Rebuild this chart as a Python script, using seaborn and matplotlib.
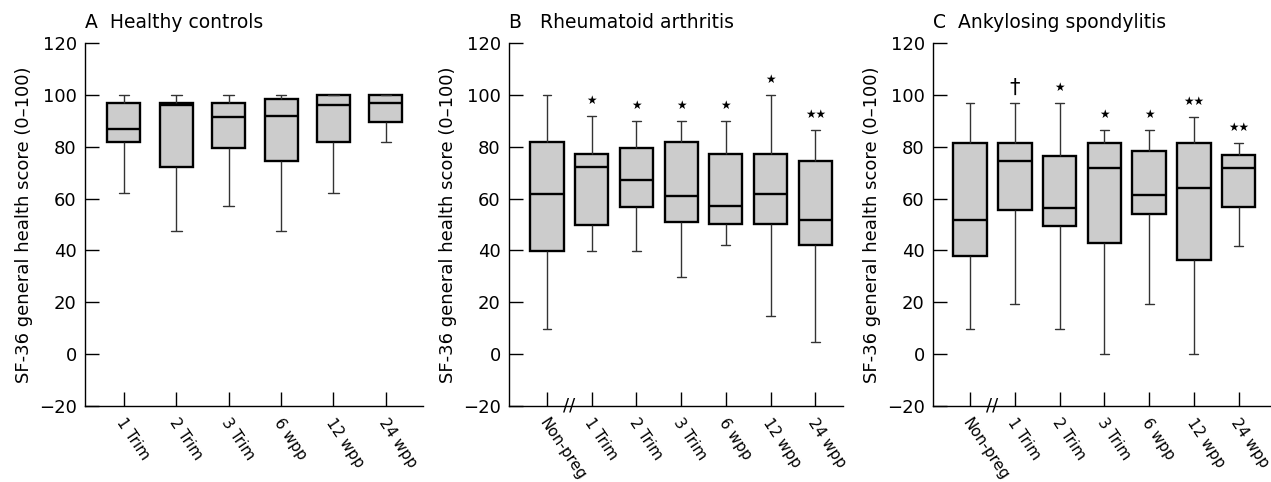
import pandas as pd
import matplotlib.pyplot as plt
import matplotlib.transforms as mtransforms
import seaborn as sns

# five-number summaries: min, Q1, median, Q3, max
groups_ctrl = ['1 Trim', '2 Trim', '3 Trim', '6 wpp', '12 wpp', '24 wpp']
groups_dis = ['Non-preg'] + groups_ctrl

ctrl_min = [62, 47.5, 57, 47.5, 62, 82]
ctrl_q1 = [82, 72, 79.6, 74.3, 82, 89.5]
ctrl_med = [87, 96, 91.5, 92, 96, 97]
ctrl_q3 = [97, 97, 97, 98.3, 100, 100]
ctrl_max = [100, 100, 100, 100, 100, 100]
ctrl_sig = ['', '', '', '', '', '']

ra_min = [9.6, 39.7, 39.7, 29.8, 42, 14.8, 4.8]
ra_q1 = [39.7, 49.9, 56.8, 51, 50, 50, 42]
ra_med = [61.7, 72, 67, 61, 57, 61.7, 51.8]
ra_q3 = [82, 77, 79.5, 82, 77, 77, 74.3]
ra_max = [100, 91.8, 90, 90, 90, 100, 86.6]
ra_sig = ['', '★', '★', '★', '★', '★', '★★']

as_min = [9.8, 19.3, 9.6, 0, 19.3, 0, 41.6]
as_q1 = [38, 55.6, 49.6, 43, 54, 36.4, 56.7]
as_med = [51.7, 74.3, 56.4, 71.8, 61.5, 63.9, 71.6]
as_q3 = [81.5, 81.5, 76.4, 81.5, 78.3, 81.5, 76.7]
as_max = [96.7, 96.7, 96.7, 86.6, 86.6, 91.5, 81.6]
as_sig = ['', '†', '★', '★', '★', '★★', '★★']

titles = ['A  Healthy controls', 'B   Rheumatoid arthritis', 'C  Ankylosing spondylitis']


def to_long(groups, mins, q1s, meds, q3s, maxs):
    # 5 points per group -> quartiles land exactly on the read values
    rows = []
    for g, a, b, c, d, e in zip(groups, mins, q1s, meds, q3s, maxs):
        for v in (a, b, c, d, e):
            rows.append((g, v))
    return pd.DataFrame(rows, columns=['group', 'score'])


sns.set_style('ticks')
plt.rcParams['font.family'] = ['DejaVu Sans']
plt.rcParams['text.color'] = 'black'
plt.rcParams['axes.labelcolor'] = 'black'

fig = plt.figure(figsize=(12.71, 4.82), dpi=100)
H = 482
W = 1271
# axes boxes in pixels: left, right, xlim, box width
layout = [
    (85, 423, (-0.744, 5.71), 0.63),
    (509, 843, (-0.85, 6.62), 0.74),
    (933, 1270, (-0.826, 6.70), 0.75),
]
panels = [
    (groups_ctrl, ctrl_min, ctrl_q1, ctrl_med, ctrl_q3, ctrl_max, ctrl_sig),
    (groups_dis, ra_min, ra_q1, ra_med, ra_q3, ra_max, ra_sig),
    (groups_dis, as_min, as_q1, as_med, as_q3, as_max, as_sig),
]
shift = mtransforms.ScaledTranslation(-4 / 100, 0, fig.dpi_scale_trans)

for (left, right, xlim, bw), pan, title in zip(layout, panels, titles):
    groups, mins, q1s, meds, q3s, maxs, sig = pan
    ax = fig.add_axes([left / W, 1 - 406 / H, (right - left) / W, (406 - 43) / H])
    df = to_long(groups, mins, q1s, meds, q3s, maxs)
    sns.boxplot(data=df, x='group', y='score', order=groups, ax=ax,
                whis=(0, 100), width=bw, color='#cccccc', fliersize=0,
                capwidths=0.2,
                boxprops=dict(edgecolor='black', linewidth=1.7),
                medianprops=dict(color='black', linewidth=1.7),
                whiskerprops=dict(color='#333333', linewidth=1.0),
                capprops=dict(color='#333333', linewidth=1.0))
    ax.set_ylim(-20, 120)
    ax.set_xlim(*xlim)
    ax.set_yticks(range(-20, 121, 20))
    ax.set_yticklabels(['\u221220'] + [str(v) for v in range(0, 121, 20)])
    ax.set_xlabel('')
    ax.set_ylabel('SF-36 general health score (0\u2013100)', fontsize=13)
    ax.tick_params(axis='both', direction='in', length=10, width=1.0,
                   labelsize=13, color='black', labelcolor='black')
    ax.tick_params(axis='y', pad=6)
    ax.tick_params(axis='x', pad=10)
    ax.set_xticks(range(len(groups)))
    ax.set_xticklabels(groups, rotation=-56, ha='left', va='center',
                       rotation_mode='anchor', fontsize=11)
    for lab in ax.get_xticklabels():
        lab.set_transform(lab.get_transform() + shift)
    sns.despine(ax=ax)
    for s in ('left', 'bottom'):
        ax.spines[s].set_linewidth(1.0)
        ax.spines[s].set_color('black')
    ax.set_title(title, loc='left', fontsize=13.5, pad=11, x=0)
    for i, (m, mx) in enumerate(zip(sig, maxs)):
        if m == '†':
            ax.text(i, mx + 6, m, ha='center', va='center', fontsize=15)
        elif m:
            ax.text(i, mx + 6, m, ha='center', va='center', fontsize=8.5)
    if groups[0] == 'Non-preg':
        ax.text(0.5, -20, '//', ha='center', va='center', fontsize=13)

fig.savefig('out.png', dpi=100)
